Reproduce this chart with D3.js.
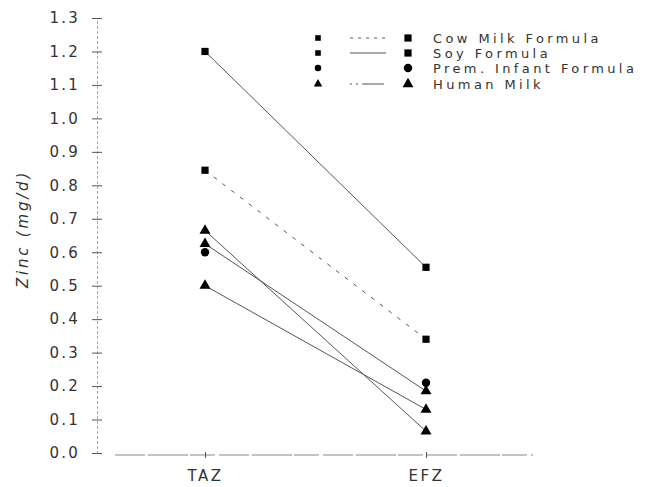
<!DOCTYPE html>
<html>
<head>
<meta charset="utf-8">
<script src="https://cdn.jsdelivr.net/npm/d3@7"></script>
<style>
  body { margin: 0; background: #fff; }
  text { font-family: "DejaVu Sans", sans-serif; fill: #333; }
</style>
</head>
<body>
<div class="canvas"></div>
<script>
const groups = ['TAZ', 'EFZ']
const seriesNames = ['Cow Milk Formula', 'Soy Formula', 'Prem. Infant Formula', 'Human Milk']
const cowMilk = [0.845, 0.34]
const soy = [1.2, 0.555]
const premInfant = [0.6, 0.21]
const humanMilkA = [0.665, 0.065]
const humanMilkB = [0.625, 0.185]
const humanMilkC = [0.5, 0.13]
const yTicks = [0, 0.1, 0.2, 0.3, 0.4, 0.5, 0.6, 0.7, 0.8, 0.9, 1.0, 1.1, 1.2, 1.3]

const width = 663
const height = 487

const series = [
  {name: seriesNames[0], values: cowMilk, symbol: d3.symbolSquare, dash: '4,7', line: true},
  {name: seriesNames[1], values: soy, symbol: d3.symbolSquare, dash: null, line: true},
  {name: seriesNames[2], values: premInfant, symbol: d3.symbolCircle, dash: null, line: false},
  {name: seriesNames[3], values: humanMilkA, symbol: d3.symbolTriangle, dash: null, line: true},
  {name: seriesNames[3], values: humanMilkB, symbol: d3.symbolTriangle, dash: null, line: true},
  {name: seriesNames[3], values: humanMilkC, symbol: d3.symbolTriangle, dash: null, line: true}
]
const legendDash = ['3,5', null, null, '2,4,2,4,22']
const legendSymbols = [d3.symbolSquare, d3.symbolSquare, d3.symbolCircle, d3.symbolTriangle]
const symbolSize = {square: 52, circle: 55, triangle: 52}
const sizeOf = s => s === d3.symbolSquare ? symbolSize.square
  : s === d3.symbolCircle ? symbolSize.circle : symbolSize.triangle

const svg = d3.select('.canvas').append('svg')
  .attr('width', width)
  .attr('height', height)

const x = d3.scalePoint().domain(groups).range([205, 426])
const y = d3.scaleLinear().domain([0, 1.3]).range([453, 18])

// y axis
const yAxis = svg.append('g')
  .attr('transform', 'translate(97,0)')
  .call(d3.axisLeft(y).tickValues(yTicks).tickSize(5).tickPadding(12)
    .tickFormat(d3.format('.1f')))
yAxis.select('.domain').attr('stroke', '#aaa').attr('stroke-dasharray', '3,2')
yAxis.selectAll('.tick line').attr('x2', 5).attr('x1', -5).attr('stroke', '#555')
yAxis.selectAll('.tick text')
  .attr('font-size', 15)
  .attr('letter-spacing', 2.2)
  .attr('fill', '#444')
  .style('font-family', '"DejaVu Sans", sans-serif')

svg.append('text')
  .attr('transform', `translate(28, ${(165 + 293) / 2}) rotate(-90)`)
  .attr('text-anchor', 'middle')
  .attr('font-size', 15)
  .attr('letter-spacing', 2.8)
  .attr('fill', '#444')
  .attr('font-style', 'italic')
  .text('Zinc (mg/d)')

// x axis
const xAxis = svg.append('g')
  .attr('transform', 'translate(0,455)')
xAxis.append('line')
  .attr('x1', 115).attr('x2', 533)
  .attr('stroke', '#888').attr('stroke-width', 1.2)
  .attr('stroke-dasharray', '30,3,40,2,25,4')
xAxis.call(d3.axisBottom(x).tickSize(3).tickPadding(12))
xAxis.select('.domain').remove()
xAxis.selectAll('.tick line').attr('y1', -3).attr('stroke', '#555')
xAxis.selectAll('.tick text')
  .attr('font-size', 15)
  .attr('letter-spacing', 2.5)
  .attr('fill', '#444')
  .style('font-family', '"DejaVu Sans", sans-serif')

// lines
const line = d3.line()
  .x((d, i) => x(groups[i]))
  .y(d => y(d))
svg.append('g').selectAll('path')
  .data(series.filter(s => s.line))
  .join('path')
  .attr('d', s => line(s.values))
  .attr('fill', 'none')
  .attr('stroke', '#555')
  .attr('stroke-width', 1)
  .attr('stroke-dasharray', s => s.dash)

// markers
series.forEach(s => {
  svg.append('g').selectAll('path')
    .data(s.values)
    .join('path')
    .attr('transform', (d, i) => `translate(${x(groups[i])},${y(d)})`)
    .attr('d', d3.symbol().type(s.symbol).size(sizeOf(s.symbol)))
    .attr('fill', '#000')
})

// legend
const legend = svg.append('g')
const rowY = [38, 53, 68, 84]
const legendRows = legend.selectAll('g')
  .data(seriesNames)
  .join('g')
  .attr('transform', (d, i) => `translate(0,${rowY[i]})`)
legendRows.append('path')
  .attr('transform', 'translate(318,0)')
  .attr('d', (d, i) => d3.symbol().type(legendSymbols[i]).size(sizeOf(legendSymbols[i]) * 0.6)())
legendRows.append('line')
  .attr('x1', 350).attr('x2', 386)
  .attr('stroke', (d, i) => i === 2 ? 'none' : '#555')
  .attr('stroke-dasharray', (d, i) => legendDash[i])
legendRows.append('path')
  .attr('transform', 'translate(408,0)')
  .attr('d', (d, i) => d3.symbol().type(legendSymbols[i]).size(sizeOf(legendSymbols[i]))())
legendRows.append('text')
  .attr('x', 433)
  .attr('y', 5)
  .attr('font-size', 13)
  .attr('letter-spacing', 3.4)
  .attr('fill', '#444')
  .text(d => d)
</script>
</body>
</html>
